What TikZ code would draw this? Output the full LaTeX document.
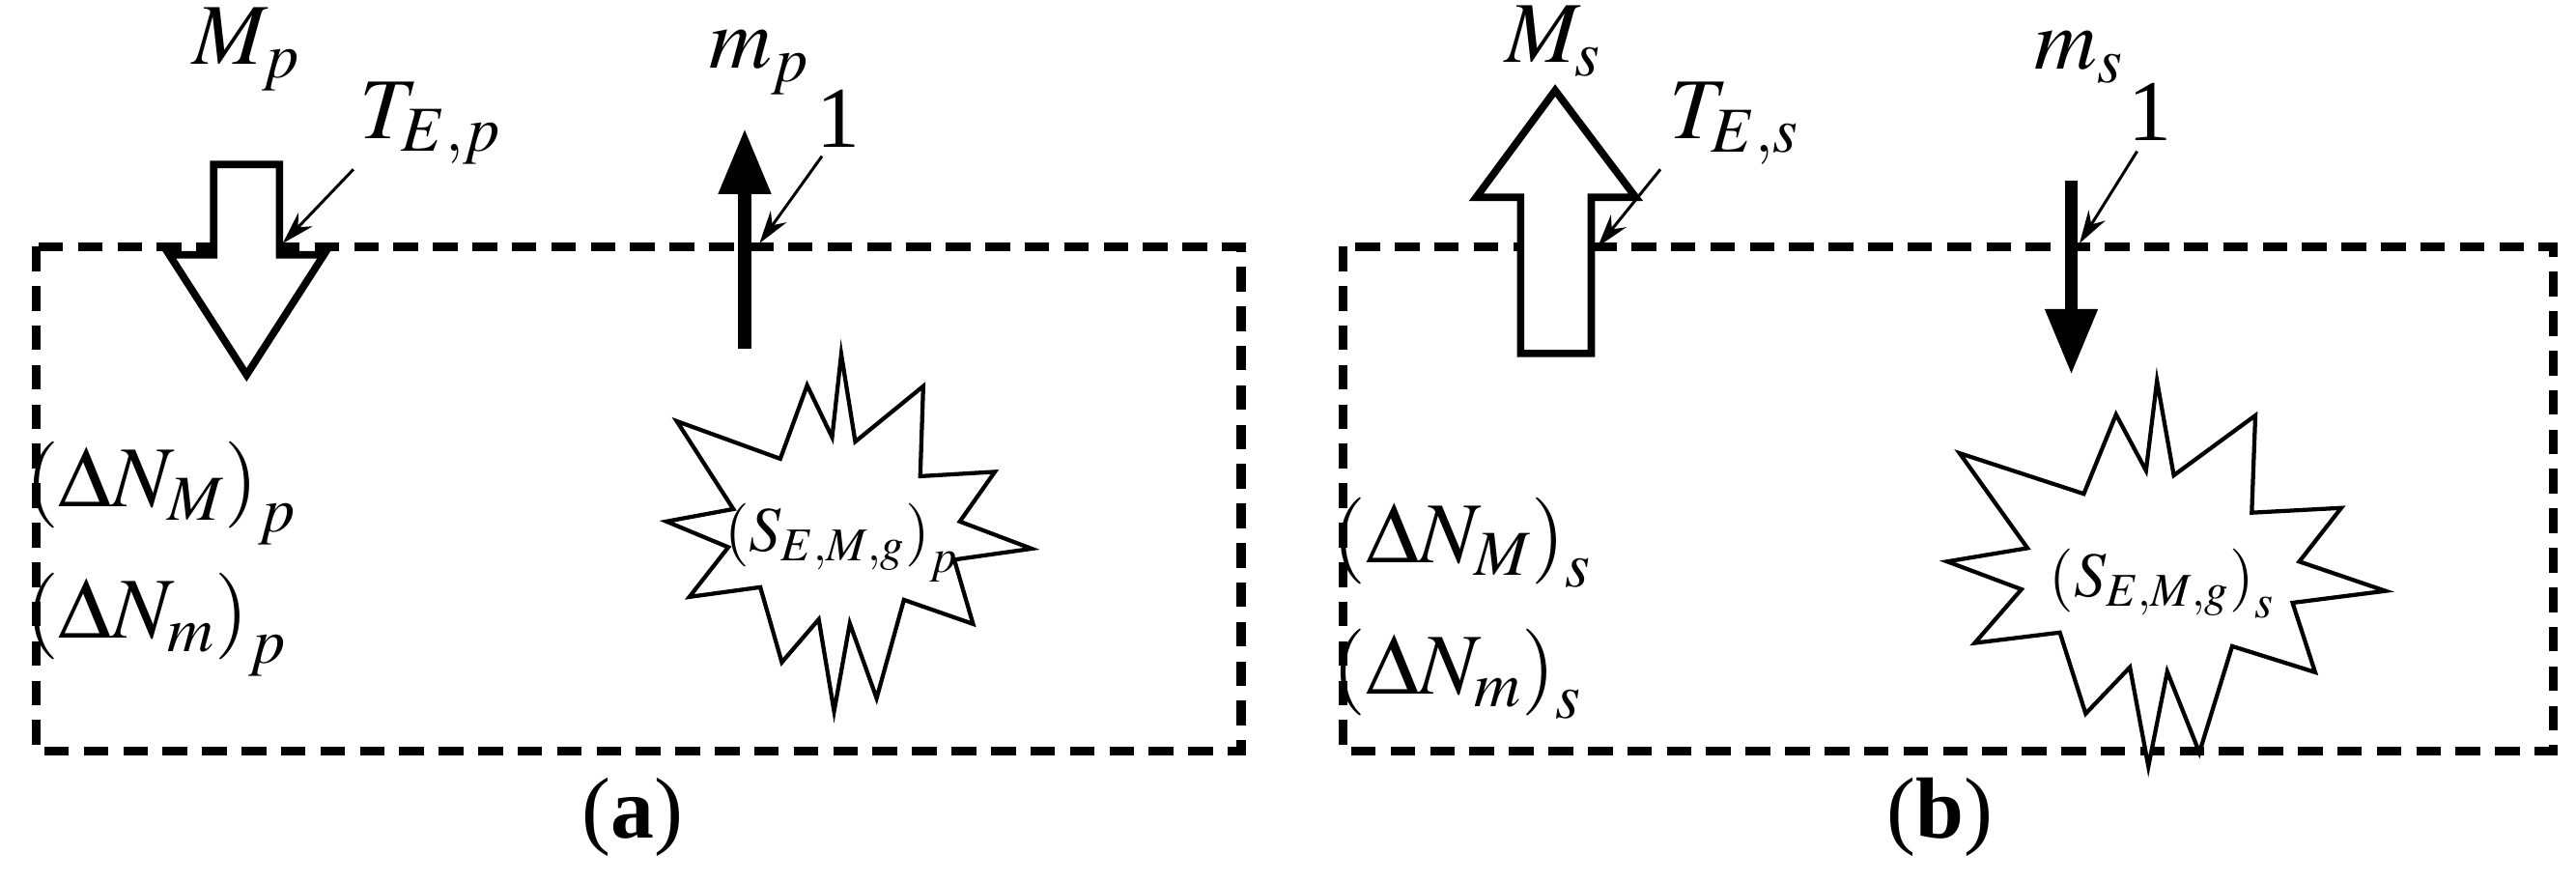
\documentclass[tikz,border=0pt]{standalone}
\usepackage{mathptmx}
\usepackage{fontspec}
\setmainfont{Liberation Serif}
\usepackage{tikz}
\usetikzlibrary{arrows.meta}

\tikzset{
  sys/.style={line width=0.11cm, dash pattern=on 0.3cm off 0.18cm},
  big/.style={font=\fontsize{30}{36}\selectfont, inner sep=0pt},
  mid/.style={font=\fontsize{22}{26}\selectfont, inner sep=0pt},
  hollow/.style={draw, line width=0.09cm, fill=white, line join=miter},
  flow/.style={line width=0.16cm, -{Triangle[length=0.8cm,width=0.6cm]}},
  pointer/.style={line width=0.035cm, -{Stealth[length=0.4cm,width=0.24cm]}},
  burst/.style={draw, line width=0.05cm, fill=white, line join=miter}
}

\begin{document}
\begin{tikzpicture}[x=0.02cm,y=-0.02cm]
\useasboundingbox (0,0) rectangle (1567,536);

% (a)
\draw [sys] (22,150) rectangle (755,457);
\draw [hollow] (130,100) -- (170,100) -- (170,155) -- (197,155) -- (150,228)
  -- (103,155) -- (130,155) -- cycle;
\node [big] (Mp) at (150,30) {$M_p$};
\node [big] (TEp) at (262,75) {$T_{E,p}$};
\coordinate (TEpend) at (172,148);
\draw [pointer] (215,103) -- (TEpend);
\coordinate (mpbot) at (453,212);
\coordinate (mptop) at (453,78);
\draw [flow] (mpbot) -- (mptop);
\node [big] (mp) at (462,38) {$m_p$};
\node [big] (onep) at (510,72) {1};
\coordinate (onepend) at (462,148);
\draw [pointer] (500,95) -- (onepend);
\begin{scope}[shift={(510,325)}]
\draw [burst] (5:118 and 100) -- (20:75 and 45) -- (35:100 and 95) -- (50:62 and 52)
  -- (65:55 and 110) -- (80:40 and 55) -- (95:30 and 108) -- (110:35 and 55)
  -- (125:60 and 95) -- (140:62 and 50) -- (155:100 and 90) -- (170:68 and 45)
  -- (185:105 and 90) -- (200:68 and 45) -- (215:120 and 120) -- (230:55 and 60)
  -- (245:45 and 100) -- (260:22 and 60) -- (275:20 and 110) -- (290:30 and 60)
  -- (305:90 and 110) -- (320:65 and 55) -- (335:105 and 90) -- (350:75 and 45) -- cycle;
\end{scope}
\node [mid] (Sp) at (512,330) {$\left(S_{E,M,g}\right)_p$};
\node [big, anchor=west] (NMp) at (15,300) {$\left(\Delta N_M\right)_p$};
\node [big, anchor=west] (Nmp) at (15,380) {$\left(\Delta N_m\right)_p$};
\node [big] (capa) at (385,497) {(\textbf{a})};

% (b)
\draw [sys] (817,150) rectangle (1553,457);
\draw [hollow] (925,215) -- (968,215) -- (968,120) -- (995,120) -- (946,55)
  -- (898,120) -- (925,120) -- cycle;
\node [big] (Ms) at (945,25) {$M_s$};
\node [big] (TEs) at (1055,75) {$T_{E,s}$};
\coordinate (TEsend) at (972,150);
\draw [pointer] (1010,103) -- (TEsend);
\coordinate (mstop) at (1260,110);
\coordinate (msbot) at (1260,228);
\draw [flow] (mstop) -- (msbot);
\node [big] (ms) at (1265,35) {$m_s$};
\node [big] (ones) at (1308,68) {1};
\coordinate (onesend) at (1265,148);
\draw [pointer] (1300,92) -- (onesend);
\begin{scope}[shift={(1310,350)}, xscale=1.2, yscale=1.08]
\draw [burst] (5:118 and 100) -- (20:75 and 45) -- (35:100 and 95) -- (50:62 and 52)
  -- (65:55 and 110) -- (80:40 and 55) -- (95:30 and 108) -- (110:35 and 55)
  -- (125:60 and 95) -- (140:62 and 50) -- (155:100 and 90) -- (170:68 and 45)
  -- (185:105 and 90) -- (200:68 and 45) -- (215:120 and 120) -- (230:55 and 60)
  -- (245:45 and 100) -- (260:22 and 60) -- (275:20 and 110) -- (290:30 and 60)
  -- (305:90 and 110) -- (320:65 and 55) -- (335:105 and 90) -- (350:75 and 45) -- cycle;
\end{scope}
\node [mid] (Ss) at (1315,355) {$\left(S_{E,M,g}\right)_s$};
\node [big, anchor=west] (NMs) at (810,330) {$\left(\Delta N_M\right)_s$};
\node [big, anchor=west] (Nms) at (810,410) {$\left(\Delta N_m\right)_s$};
\node [big] (capb) at (1180,497) {(\textbf{b})};
\end{tikzpicture}
\end{document}
